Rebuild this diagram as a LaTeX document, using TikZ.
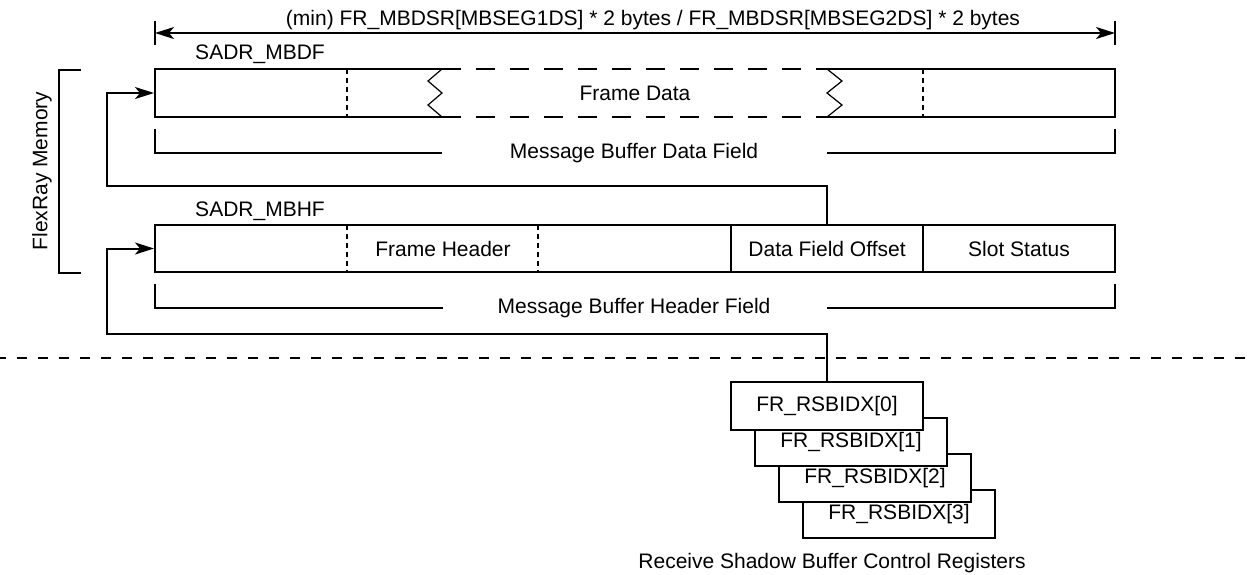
\documentclass[tikz,border=0pt]{standalone}
\usepackage{fontspec}
\setmainfont{Liberation Sans}
\usetikzlibrary{arrows.meta, positioning, calc}

\begin{document}
\begin{tikzpicture}[x=0.5pt, y=-0.5pt, line width=1pt,
    font=\fontsize{10.5}{12}\selectfont,
    cell/.style={draw, minimum height=23.5pt, inner sep=0pt},
    regbox/.style={draw, fill=white, minimum width=96pt, minimum height=24pt, inner sep=0pt},
    divider/.style={line width=1pt, dash pattern=on 2.5pt off 2pt},
    gapedge/.style={dash pattern=on 9.5pt off 7.5pt},
    zigzag/.style={line width=0.6pt},
    flow/.style={-{Stealth[length=9.5pt, width=6pt, inset=2.5pt]}}]

  \useasboundingbox (0,0) rectangle (1256,574);

  % size of the data field
  \coordinate (dimL) at (155,33);
  \coordinate (dimR) at (1115,33);
  \draw (155,21) -- (155,45);
  \draw (1115,21) -- (1115,45);
  \draw[{Stealth[length=9.5pt, width=6pt, inset=2.5pt]}-{Stealth[length=9.5pt, width=6pt, inset=2.5pt]}] (dimL) -- (dimR);
  \node (dimlabel) at (653,20) {(min) FR\_MBDSR[MBSEG1DS] * 2 bytes / FR\_MBDSR[MBSEG2DS] * 2 bytes};

  % message buffer data field
  \node (sadrdf) at (260,54) {SADR\_MBDF};
  \node[minimum width=480pt, minimum height=24pt, inner sep=0pt] (mbdf) at (635,93) {Frame Data};
  \draw (442,69) -- (155,69) -- (155,117) -- (442,117);
  \draw[zigzag] (442,69) -- (428,81) -- (442,93) -- (428,105) -- (442,117);
  \draw[gapedge] (442,69) -- (827,69) (442,117) -- (827,117);
  \draw[zigzag] (827,69) -- (842,81) -- (827,93) -- (842,105) -- (827,117);
  \draw (827,69) -- (1115,69) -- (1115,117) -- (827,117);
  \draw[divider] (347,69) -- (347,117);
  \draw[divider] (923,69) -- (923,117);

  \node (dflabel) at (634,153) {Message Buffer Data Field};
  \draw (155,129) |- (442,153);
  \draw (827,153) -| (1115,129);

  % message buffer header field
  \node (sadrhf) at (260,211) {SADR\_MBHF};
  \node[cell, minimum width=288pt] (mbhf) at (443,248.5) {};
  \node (fhead) at (443,248.5) {Frame Header};
  \node[cell, minimum width=96pt] (dfo) at (827,248.5) {Data Field Offset};
  \node[cell, minimum width=96pt] (slot) at (1019,248.5) {Slot Status};
  \draw[divider] (347,225) -- (347,272);
  \draw[divider] (538,225) -- (538,272);

  \node (hflabel) at (634,308) {Message Buffer Header Field};
  \draw (155,284) |- (443,308);
  \draw (827,308) -| (1115,284);

  % flexray memory
  \draw (81,70) -- (59,70) -- (59,273) -- (81,273);
  \node[rotate=90] (flexray) at (42,171) {FlexRay Memory};

  \draw[dash pattern=on 5pt off 5.5pt, dash phase=2pt] (0,358) -- (1256,358);

  % receive shadow buffer registers
  \foreach \i in {3,2,1,0} {
    \node[regbox] (rsb\i) at (827+24*\i,406+36*\i) {FR\_RSBIDX[\i]};
  }
  \node (rsblabel) at (832,563) {Receive Shadow Buffer Control Registers};

  \draw[flow] (dfo.north) |- (107,186) |- (mbdf.west);
  \draw[flow] (rsb0.north) |- (107,334) |- (mbhf.west);

\end{tikzpicture}
\end{document}
